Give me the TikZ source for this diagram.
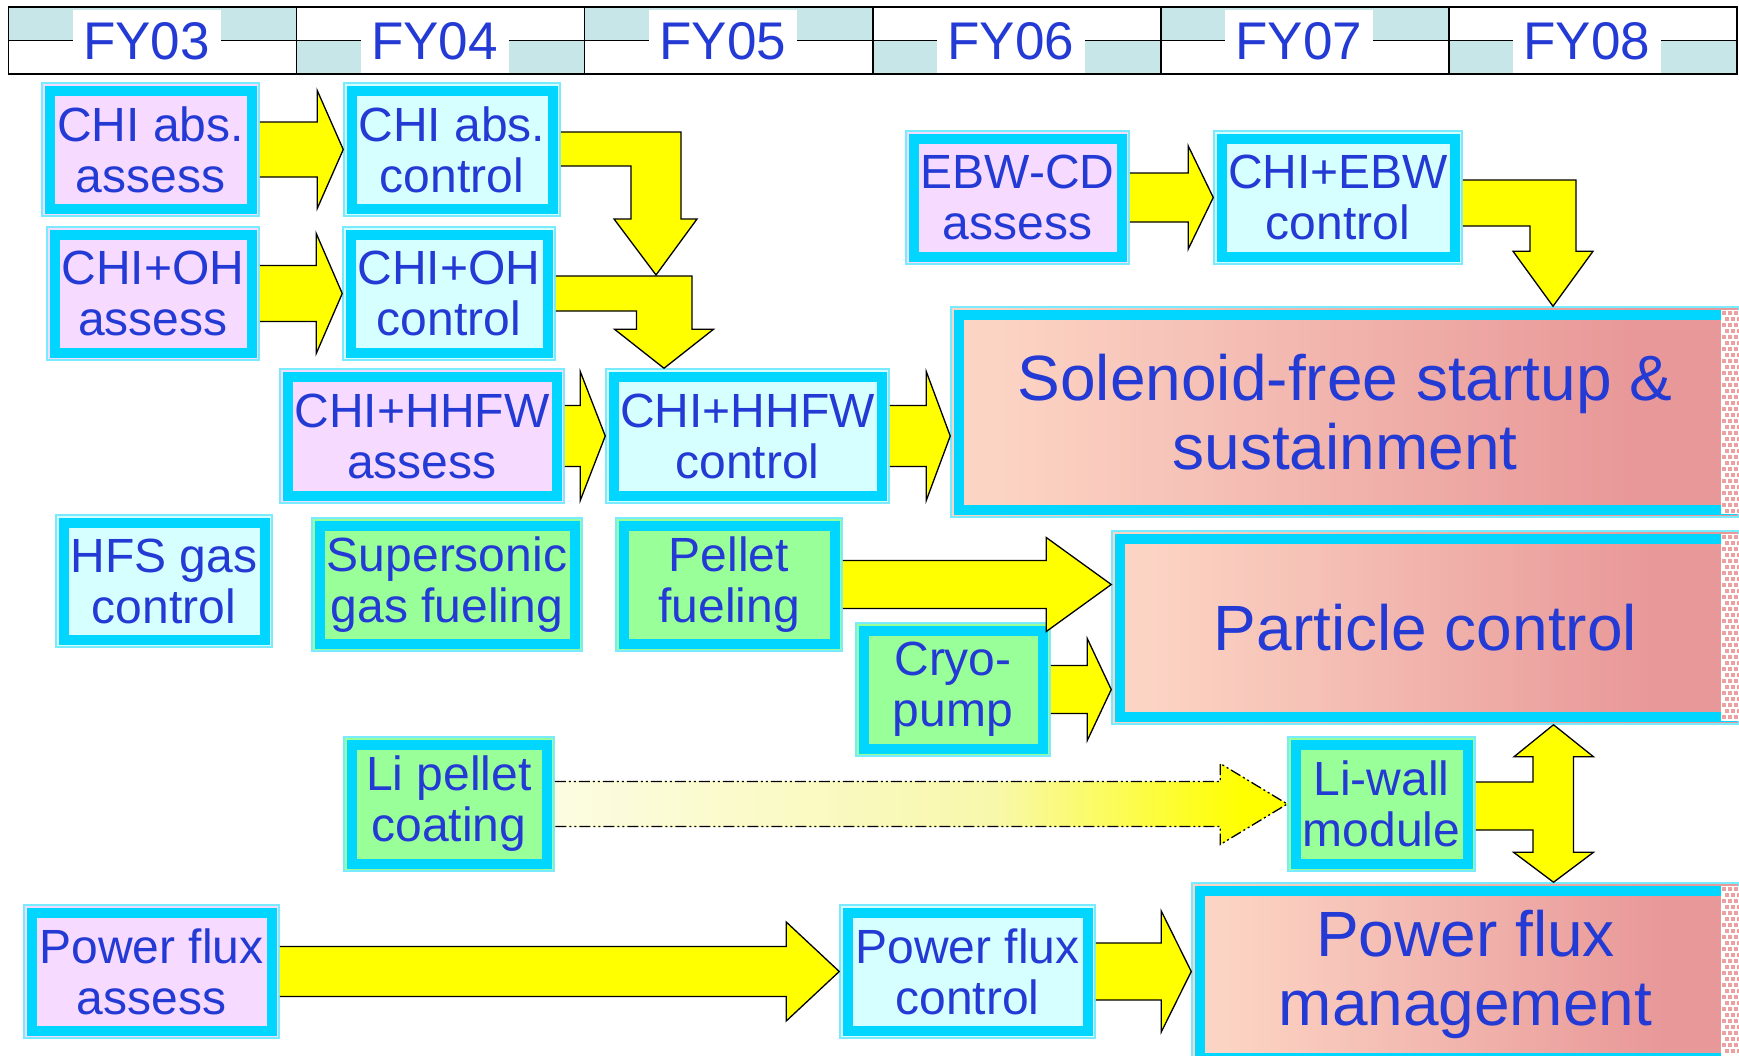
\documentclass[tikz,border=0pt]{standalone}
\usepackage{fontspec}
\setmainfont{Liberation Sans}
\usetikzlibrary{calc}

\definecolor{inkblue}{RGB}{36,58,212}
\definecolor{assesspink}{RGB}{246,218,255}
\definecolor{controlcyan}{RGB}{214,255,255}
\definecolor{hwgreen}{RGB}{153,255,153}
\definecolor{bandcyan}{RGB}{0,214,255}
\definecolor{rimcyan}{RGB}{120,235,255}
\definecolor{yearshade}{RGB}{198,230,232}
\definecolor{goallight}{RGB}{252,212,196}
\definecolor{goaldark}{RGB}{232,152,152}
\definecolor{checkpink}{RGB}{236,160,160}
\definecolor{arrowyellow}{RGB}{255,255,0}
\definecolor{lipale}{RGB}{252,252,226}
\definecolor{limid}{RGB}{248,248,172}

\pgfdeclarehorizontalshading{goalfade}{100bp}{color(0bp)=(goallight); color(28bp)=(goallight); color(68bp)=(goaldark); color(100bp)=(goaldark)}
\pgfdeclarehorizontalshading{lifade}{100bp}{color(0bp)=(lipale); color(25bp)=(lipale); color(55bp)=(limid); color(72bp)=(arrowyellow); color(100bp)=(arrowyellow)}

\newcommand\stagefont{\fontsize{48}{51}\selectfont}
\newcommand\goalfont{\fontsize{64}{69}\selectfont}
\newcommand\yearfont{\fontsize{53}{56}\selectfont}

% fat arrow from the east side of #2 to the west side of #3
% #4 half shaft, #5 half head, #6 head length
\newcommand\fatarrow[6][]{%
  \path (#2.east) coordinate (fa-tail) (#3.west |- #2.east) coordinate (fa-tip);
  \draw[blockarr,#1] ($(fa-tail)+(0,-#4)$) -- ($(fa-tip)+(-#6,-#4)$) -- ($(fa-tip)+(-#6,-#5)$) -- (fa-tip)
    -- ($(fa-tip)+(-#6,#5)$) -- ($(fa-tip)+(-#6,#4)$) -- ($(fa-tail)+(0,#4)$);}

% checkered edge where a goal box runs out of the page
\newcommand\checkstrip[2]{%
  \fill[white] (1721,#1) rectangle (1739,#2);
  \pgfmathtruncatemacro\nrows{(#2-#1)/6-1}
  \foreach \r in {0,...,\nrows}{
    \pgfmathsetmacro\yy{#1+1+6*\r}
    \pgfmathsetmacro\off{mod(\r,2)*3}
    \foreach \xx in {1722,1728,1734}
      \fill[checkpink] (\xx+\off,\yy) rectangle +(4,4);
  }}

\begin{document}
\begin{tikzpicture}[x=1pt,y=-1pt,
 stage/.style={draw=rimcyan,line width=1.5pt,inner sep=0pt,align=center,text=inkblue,font=\stagefont,
   path picture={\draw[bandcyan,line width=10pt] ([shift={(7.5pt,-7.5pt)}]path picture bounding box.north west)
     rectangle ([shift={(-7.5pt,7.5pt)}]path picture bounding box.south east);}},
 assess/.style={stage,fill=assesspink},
 control/.style={stage,fill=controlcyan},
 hardware/.style={stage,fill=hwgreen},
 goal/.style={stage,shade,shading=goalfade,font=\goalfont},
 year/.style={fill=white,inner sep=0pt,minimum width=148,minimum height=63,text=inkblue,font=\yearfont},
 gridline/.style={line width=1.5pt},
 blockarr/.style={draw=black,line width=1.3pt,fill=arrowyellow},
 dashdotdot/.style={dash pattern=on 11pt off 3pt on 2pt off 3pt on 2pt off 3pt,shade,shading=lifade}]
\useasboundingbox (0,0) rectangle (1739,1055);
\clip (0,0) rectangle (1739,1055);
\fill[white] (0,0) rectangle (1739,1055);

% year header
\foreach \lab [count=\i from 0] in {FY03,FY04,FY05,FY06,FY07,FY08}{
  \pgfmathsetmacro\xl{8.5+288.08*\i}
  \pgfmathsetmacro\yt{mod(\i,2)==0 ? 7 : 40.5}
  \fill[yearshade] (\xl,\yt) rectangle +(288.08,33.5);
}
\draw[gridline] (8.5,7) rectangle (1737,74) (8.5,40.5) -- (1737,40.5);
\foreach \i in {1,...,5} \draw[gridline] (8.5+288.08*\i,7) -- +(0,67);
\foreach \lab [count=\i from 0] in {FY03,FY04,FY05,FY06,FY07,FY08}
  \node[year] (\lab) at (8.5+288.08*\i+138,41.5) {\lab};

% tasks
\node[assess,minimum width=217,minimum height=133] (cabsass) at (150.5,149.5) {CHI abs.\\assess};
\node[control,minimum width=216,minimum height=133] (cabsctl) at (452,149.5) {CHI abs.\\control};
\node[assess,minimum width=212,minimum height=133] (ohass) at (153,293.5) {CHI+OH\\assess};
\node[control,minimum width=212,minimum height=133] (ohctl) at (449,293.5) {CHI+OH\\control};
\node[assess,minimum width=284,minimum height=134] (hhfwass) at (422,436) {CHI+HHFW\\assess};
\node[control,minimum width=283,minimum height=134] (hhfwctl) at (747.5,436) {CHI+HHFW\\control};
\node[assess,minimum width=223,minimum height=133] (ebwass) at (1017.5,197.5) {EBW-CD\\assess};
\node[control,minimum width=248,minimum height=133] (ebwctl) at (1338,197.5) {CHI+EBW\\control};
\node[control,minimum width=216,minimum height=132] (hfsgas) at (164,581) {HFS gas\\control};
\node[hardware,minimum width=270,minimum height=133] (ssgas) at (447,584.5) {Supersonic\\gas fueling};
\node[hardware,minimum width=226,minimum height=133] (pellet) at (729,584.5) {Pellet\\fueling};
\node[hardware,minimum width=194,minimum height=133] (cryo) at (953,689.5) {Cryo-\\pump};
\node[hardware,minimum width=210,minimum height=134] (lipellet) at (449,804) {Li pellet\\coating};
\node[hardware,minimum width=187,minimum height=134] (liwall) at (1381.5,804) {Li-wall\\module};
\node[assess,minimum width=255,minimum height=133] (pfass) at (151.5,971.5) {Power flux\\assess};
\node[control,minimum width=255,minimum height=133] (pfctl) at (967.5,971.5) {Power flux\\control};

% goals
\node[goal,minimum width=788,minimum height=210] (sol) at (1345,412) {Solenoid-free startup \&\\sustainment};
\node[goal,minimum width=627,minimum height=193] (pc) at (1425.5,627.5) {Particle control};
\node[goal,minimum width=547,minimum height=182] (pfm) at (1465.5,974) {Power flux\\management};
\checkstrip{310}{514}
\checkstrip{534}{721}
\checkstrip{886}{1056}

\coordinate (dropA) at (656,275);
\coordinate (dropB) at ($(hhfwctl.north)+(-83.5,0)$);
\coordinate (dropC) at ($(sol.north)+(208,0)$);
\coordinate (upD) at ($(pc.south)+(128,0)$);
\coordinate (downD) at ($(pfm.north)+(88,0)$);

\fatarrow{cabsass}{cabsctl}{27.5}{59}{26}
\fatarrow{ohass}{ohctl}{28}{60}{26}
\fatarrow{hhfwass}{hhfwctl}{30.5}{64.5}{25}
\fatarrow{hhfwctl}{sol}{30.5}{64.5}{24}
\fatarrow{ebwass}{ebwctl}{24.5}{51.5}{25}
\fatarrow{pellet}{pc}{24}{47}{65}
\fatarrow{cryo}{pc}{24}{51}{24}
\fatarrow[dashdotdot]{lipellet}{liwall}{22.5}{40.5}{67}
\fatarrow{pfass}{pfctl}{25}{49.5}{53}
\fatarrow{pfctl}{pfm}{28.5}{60.5}{30}

\draw[blockarr] ($(ohctl.east)+(0,-17.5)$) -| ($(dropB)+(28,-39)$) -- ++(21.5,0) -- (dropB)
  -- ++(-49.5,-39) -- ++(22,0) |- ($(ohctl.east)+(0,17.5)$);
\draw[blockarr] ($(cabsctl.east)+(0,-17.5)$) -| ($(dropA)+(25,-56)$) -- ++(16,0) -- (dropA)
  -- ++(-42,-56) -- ++(17,0) |- ($(cabsctl.east)+(0,16.5)$);
\draw[blockarr] ($(ebwctl.east)+(0,-17.5)$) -| ($(dropC)+(23,-55)$) -- ++(17,0) -- (dropC)
  -- ++(-40,-55) -- ++(17,0) |- ($(ebwctl.east)+(0,28.5)$);
\draw[blockarr] ($(liwall.east)+(0,-22)$) -| ($(upD)+(-20.5,32)$) -- ++(-19,0) -- (upD)
  -- ++(40,32) -- ++(-20,0) -- ($(downD)+(20,-30)$) -- ++(20,0) -- (downD)
  -- ++(-40,-30) -- ++(19.5,0) |- ($(liwall.east)+(0,26)$);
\end{tikzpicture}
\end{document}
